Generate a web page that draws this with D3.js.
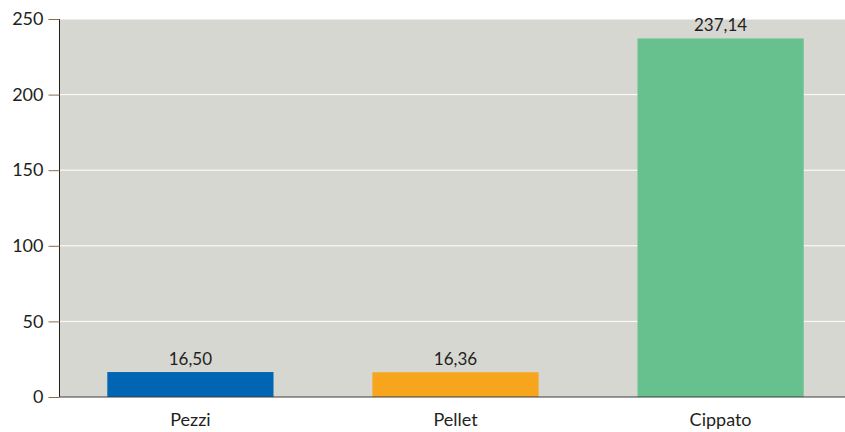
<!DOCTYPE html>
<html>
<head>
<meta charset="utf-8">
<script src="https://cdn.jsdelivr.net/npm/d3@7"></script>
<style>
  body { margin: 0; background: #fff; }
  svg text { font-family: Lato, "Open Sans", sans-serif; fill: #231f20; }
</style>
</head>
<body>
<svg id="chart" width="845" height="432"></svg>
<script>
var categories = ['Pezzi', 'Pellet', 'Cippato'];
var values = [16.50, 16.36, 237.14];
var colors = ['#0066b3', '#f7a51c', '#67c18e'];
var yTicks = [0, 50, 100, 150, 200, 250];

var svg = d3.select('#chart');
var plotL = 59.5, plotR = 845, plotT = 19, plotB = 397;

var x = d3.scaleBand().domain(categories).range([58, 853]).paddingInner(0.373).paddingOuter(0.186);
var y = d3.scaleLinear().domain([0, 250]).range([plotB, plotT]);

// plot background
svg.append('rect')
  .attr('x', plotL).attr('y', plotT)
  .attr('width', plotR - plotL).attr('height', plotB - plotT)
  .attr('fill', '#d7d7d2');

// grid
svg.append('g').selectAll('line').data(yTicks.filter(function(d){ return d > 0; }))
  .enter().append('line')
  .attr('x1', plotL).attr('x2', plotR)
  .attr('y1', function(d){ return y(d); }).attr('y2', function(d){ return y(d); })
  .attr('stroke', '#ffffff').attr('stroke-width', 1);

// bars
svg.append('g').selectAll('rect').data(values)
  .enter().append('rect')
  .attr('x', function(d, i){ return x(categories[i]); })
  .attr('y', function(d){ return y(d); })
  .attr('width', x.bandwidth())
  .attr('height', function(d){ return plotB - y(d); })
  .attr('fill', function(d, i){ return colors[i]; });

// value labels
svg.append('g').selectAll('text').data(values)
  .enter().append('text')
  .attr('x', function(d, i){ return x(categories[i]) + x.bandwidth() / 2; })
  .attr('y', function(d){ return y(d) - 7; })
  .attr('text-anchor', 'middle')
  .style('font-size', '17px')
  .text(function(d){ return d.toFixed(2).replace('.', ','); });

// y axis
var yAxis = d3.axisLeft(y).tickValues(yTicks).tickSize(11).tickPadding(5);
var gy = svg.append('g').attr('transform', 'translate(' + plotL + ',0)').call(yAxis);
gy.select('.domain').attr('stroke', '#231f20').attr('d', 'M0,' + plotT + 'V' + plotB);
gy.selectAll('.tick line').attr('stroke', '#8a6a4c');
gy.selectAll('.tick text').style('font-size', '18px').attr('fill', '#231f20');

// x axis
var xAxis = d3.axisBottom(x).tickSize(0).tickPadding(16);
var gx = svg.append('g').attr('transform', 'translate(0,' + plotB + ')').call(xAxis);
gx.select('.domain').attr('stroke', '#3a3a3a').attr('d', 'M' + plotL + ',0H' + plotR);
gx.selectAll('.tick text').style('font-size', '18px').attr('fill', '#231f20');
</script>
</body>
</html>
